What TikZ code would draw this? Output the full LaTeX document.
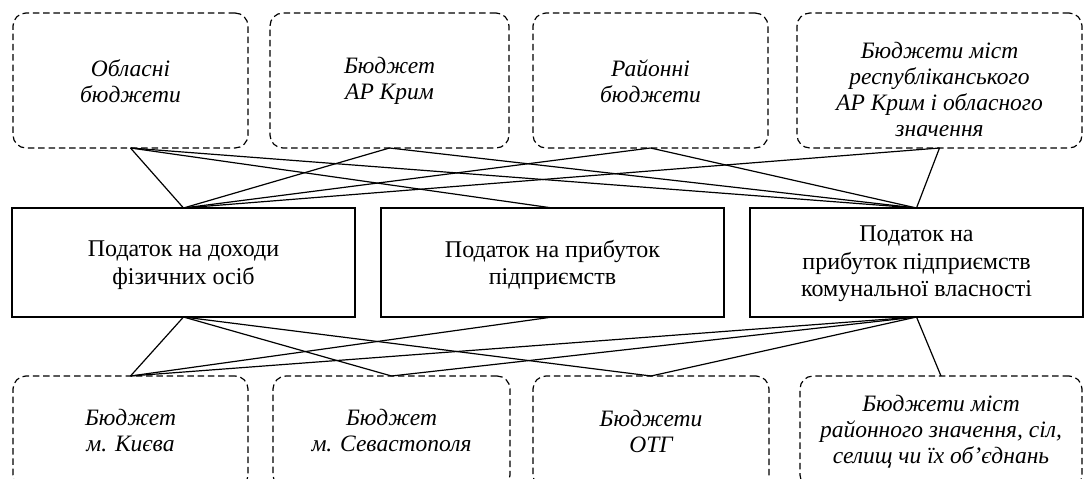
\documentclass[tikz,border=0pt]{standalone}
\usepackage{fontspec}
\setmainfont{Liberation Serif}
\begin{document}
\begin{tikzpicture}[x=1pt,y=-1pt,
  budget/.style={draw, line width=1.2pt, dash pattern=on 6.5pt off 3.8pt, rounded corners=13pt, inner sep=0pt, outer sep=0pt},
  taxbox/.style={draw, line width=1.3pt, inner sep=0pt, outer sep=0pt},
  btext/.style={font=\fontsize{23.5}{26}\selectfont\itshape, align=center, inner sep=0pt},
  mtext/.style={font=\fontsize{24}{27.5}\selectfont, align=center, inner sep=0pt},
  conn/.style={line width=1.2pt}]
\useasboundingbox (0,0) rectangle (1084,479);

% top budgets
\node[budget, minimum width=235pt, minimum height=135pt] (t1) at (130.5,80.5) {};
\node[budget, minimum width=239pt, minimum height=135pt] (t2) at (389.5,80.5) {};
\node[budget, minimum width=235pt, minimum height=135pt] (t3) at (650.5,80.5) {};
\node[budget, minimum width=285pt, minimum height=135pt] (t4) at (939.5,80.5) {};
\node[btext] (t1t) at (130.5,81) {Обласні\\бюджети};
\node[btext] (t2t) at (389.5,81) {Бюджет\\АР Крим};
\node[btext] (t3t) at (650.5,81) {Районні\\бюджети};
\node[btext] (t4t) at (939.5,89) {Бюджети міст\\республіканського\\АР Крим і обласного\\значення};

% taxes
\node[taxbox, minimum width=343pt, minimum height=109pt] (a) at (183.5,262.5) {};
\node[taxbox, minimum width=343pt, minimum height=109pt] (b) at (552.5,262.5) {};
\node[taxbox, minimum width=333pt, minimum height=109pt] (c) at (916.5,262.5) {};
\node[mtext] (at) at (183.5,265) {Податок на доходи\\фізичних осіб};
\node[mtext] (bt) at (552.5,265) {Податок на прибуток\\підприємств};
\node[mtext] (ct) at (916.5,264) {Податок на\\прибуток підприємств\\комунальної власності};

% bottom budgets
\node[budget, minimum width=235pt, minimum height=112pt] (k) at (130.5,432) {};
\node[budget, minimum width=237pt, minimum height=112pt] (s) at (391.5,432) {};
\node[budget, minimum width=236pt, minimum height=112pt] (o) at (651,432) {};
\node[budget, minimum width=282pt, minimum height=112pt] (r) at (941,432) {};
\node[btext] (kt) at (130.5,431) {Бюджет\\м. Києва};
\node[btext] (st) at (391.5,431) {Бюджет\\м. Севастополя};
\node[btext] (ot) at (651,431) {Бюджети\\ОТГ};
\node[btext] (rt) at (941,432) {Бюджети міст\\районного значення, сіл,\\селищ чи їх об’єднань};

% connectors top
\draw[conn] (t1.south) -- (a.north);
\draw[conn] (t1.south) -- (b.north);
\draw[conn] (t1.south) -- (c.north);
\draw[conn] (t2.south) -- (a.north);
\draw[conn] (t2.south) -- (c.north);
\draw[conn] (t3.south) -- (a.north);
\draw[conn] (t3.south) -- (c.north);
\draw[conn] (t4.south) -- (a.north);
\draw[conn] (t4.south) -- (c.north);

% connectors bottom
\draw[conn] (a.south) -- (k.north);
\draw[conn] (a.south) -- (s.north);
\draw[conn] (a.south) -- (o.north);
\draw[conn] (b.south) -- (k.north);
\draw[conn] (c.south) -- (k.north);
\draw[conn] (c.south) -- (s.north);
\draw[conn] (c.south) -- (o.north);
\draw[conn] (c.south) -- (r.north);
\end{tikzpicture}
\end{document}
